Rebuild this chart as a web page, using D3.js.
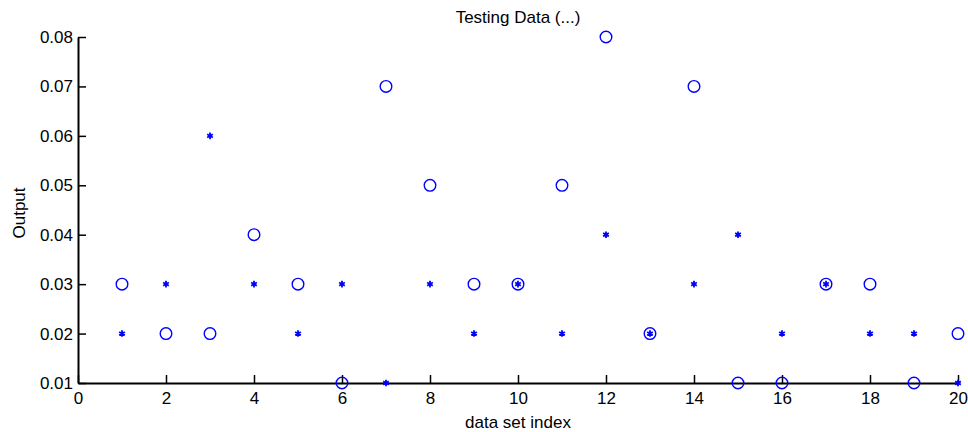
<!DOCTYPE html>
<html>
<head>
<meta charset="utf-8">
<script src="https://cdn.jsdelivr.net/npm/d3@7"></script>
<style>
  body { margin: 0; background: #fff; }
  text { font-family: "Liberation Sans", Arial, sans-serif; fill: #000; }
</style>
</head>
<body>
<div id="wrapper"></div>
<script>
const indices = d3.range(1, 21)
const targetValues = [0.03, 0.02, 0.02, 0.04, 0.03, 0.01, 0.07, 0.05, 0.03, 0.03,
                      0.05, 0.08, 0.02, 0.07, 0.01, 0.01, 0.03, 0.03, 0.01, 0.02]
const outputValues = [0.02, 0.03, 0.06, 0.03, 0.02, 0.03, 0.01, 0.03, 0.02, 0.03,
                      0.02, 0.04, 0.02, 0.03, 0.04, 0.02, 0.03, 0.02, 0.02, 0.01]
const xTicks = [0, 2, 4, 6, 8, 10, 12, 14, 16, 18, 20]
const yTicks = [0.01, 0.02, 0.03, 0.04, 0.05, 0.06, 0.07, 0.08]

const chartTitle = 'Testing Data (...)'
const xLabel = 'data set index'
const yLabel = 'Output'

let dimensions = {
    width: 968,
    height: 432,
    margin: { top: 37, right: 10, bottom: 49, left: 78 }
}
dimensions.boundedWidth = dimensions.width - dimensions.margin.left - dimensions.margin.right
dimensions.boundedHeight = dimensions.height - dimensions.margin.top - dimensions.margin.bottom

const svg = d3.select('#wrapper').append('svg')
    .attr('width', dimensions.width)
    .attr('height', dimensions.height)

const bounds = svg.append('g')
    .attr('transform', `translate(${dimensions.margin.left},${dimensions.margin.top})`)

const xScale = d3.scaleLinear().domain([0, 20]).range([0, 880])
const yScale = d3.scaleLinear().domain([0.01, 0.08]).range([dimensions.boundedHeight, 0])

const blue = '#0000ff'

// axes, ticks pointing inwards
const xAxis = d3.axisBottom(xScale).tickValues(xTicks).tickSizeInner(-8).tickSizeOuter(0)
    .tickPadding(12).tickFormat(d3.format('d'))
const yAxis = d3.axisLeft(yScale).tickValues(yTicks).tickSizeInner(-8).tickSizeOuter(0)
    .tickPadding(12).tickFormat(d3.format('.2f'))

const xg = bounds.append('g')
    .attr('transform', `translate(0,${dimensions.boundedHeight})`)
    .call(xAxis)
const yg = bounds.append('g').call(yAxis)

for (const g of [xg, yg]) {
    g.select('.domain').attr('stroke', '#000').attr('stroke-width', 2)
    g.selectAll('.tick line').attr('stroke', '#000').attr('stroke-width', 1.5)
    g.selectAll('.tick text')
        .style('font-family', '"Liberation Sans", Arial, sans-serif')
        .style('font-size', '17px')
        .attr('fill', '#000')
}
xg.selectAll('.tick text').attr('dy', '0.75em').attr('y', 8)
yg.selectAll('.tick text').attr('x', -5)

// target circles
bounds.append('g').selectAll('circle')
    .data(indices)
    .join('circle')
    .attr('cx', (d, i) => xScale(d))
    .attr('cy', (d, i) => yScale(targetValues[i]))
    .attr('r', 5.8)
    .attr('fill', 'none')
    .attr('stroke', blue)
    .attr('stroke-width', 1.4)

// output stars
const star = d3.symbol(d3.symbolAsterisk, 30)
bounds.append('g').selectAll('path')
    .data(indices)
    .join('path')
    .attr('transform', (d, i) => `translate(${xScale(d)},${yScale(outputValues[i])})`)
    .attr('d', star)
    .attr('fill', 'none')
    .attr('stroke', blue)
    .attr('stroke-width', 1.8)

svg.append('text')
    .attr('x', dimensions.margin.left + 440)
    .attr('y', 23)
    .attr('text-anchor', 'middle')
    .style('font-size', '17px')
    .text(chartTitle)

svg.append('text')
    .attr('x', dimensions.margin.left + 440)
    .attr('y', 428)
    .attr('text-anchor', 'middle')
    .style('font-size', '17px')
    .text(xLabel)

svg.append('text')
    .attr('transform', `translate(25,${dimensions.margin.top + dimensions.boundedHeight / 2 + 3}) rotate(-90)`)
    .attr('text-anchor', 'middle')
    .style('font-size', '17px')
    .text(yLabel)
</script>
</body>
</html>
